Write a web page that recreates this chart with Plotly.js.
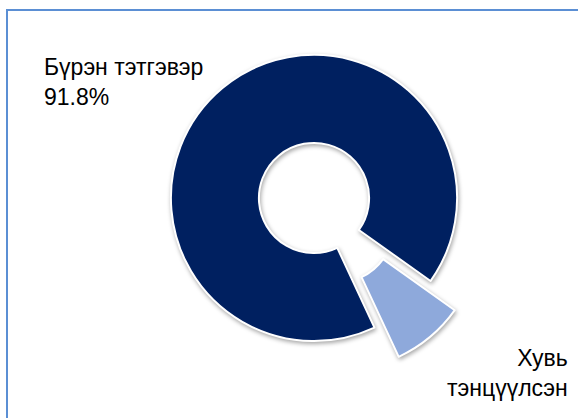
<!DOCTYPE html>
<html>
<head>
<meta charset="utf-8">
<script src="https://cdn.plot.ly/plotly-3.0.1.min.js"></script>
<style>
  html, body { margin: 0; padding: 0; background: #ffffff; }
  #chart { width: 578px; height: 418px; }
  .slice path.surface { filter: drop-shadow(1px 2px 2px rgba(0,0,0,0.35)); }
</style>
</head>
<body>
<div id="chart"></div>
<script>
// Data
var labels = ["Бүрэн тэтгэвэр", "Хувь тэнцүүлсэн"];
var values = [91.8, 8.2];
var colors = ["#002060", "#8EA9DB"];
var pulls = [0, 0.265];

var W = 578, H = 418;
function px(x) { return x / W; }
function py(y) { return 1 - y / H; }

var trace = {
  type: "pie",
  labels: labels,
  values: values,
  sort: false,
  direction: "clockwise",
  rotation: 155,
  hole: 0.385,
  pull: pulls,
  marker: { colors: colors, line: { color: "#ffffff", width: 2 } },
  textinfo: "none",
  hoverinfo: "label+percent",
  showlegend: false,
  domain: { x: [px(133), px(495)], y: [py(379), py(17)] }
};

var total = values.reduce(function (a, b) { return a + b; }, 0);
function pct(v) { return (v / total * 100).toFixed(1) + "%"; }

var layout = {
  width: W,
  height: H,
  margin: { l: 0, r: 0, t: 0, b: 0 },
  paper_bgcolor: "#ffffff",
  font: { family: "Liberation Sans, Arial, sans-serif", size: 23, color: "#000000" },
  shapes: [{
    type: "rect", xref: "paper", yref: "paper",
    x0: px(7), x1: 1.05, y0: -0.05, y1: py(10),
    line: { color: "#5B8FD4", width: 2 },
    fillcolor: "rgba(0,0,0,0)", layer: "below"
  }],
  annotations: [
    {
      xref: "paper", yref: "paper",
      x: px(42), y: py(52), xanchor: "left", yanchor: "top",
      align: "left", showarrow: false,
      text: labels[0] + "<br>" + pct(values[0])
    },
    {
      xref: "paper", yref: "paper",
      x: px(570), y: py(403), xanchor: "right", yanchor: "bottom",
      align: "right", showarrow: false,
      text: labels[1].replace(" ", "<br>")
    }
  ]
};

Plotly.newPlot("chart", [trace], layout, { displayModeBar: false, staticPlot: true });
</script>
</body>
</html>
